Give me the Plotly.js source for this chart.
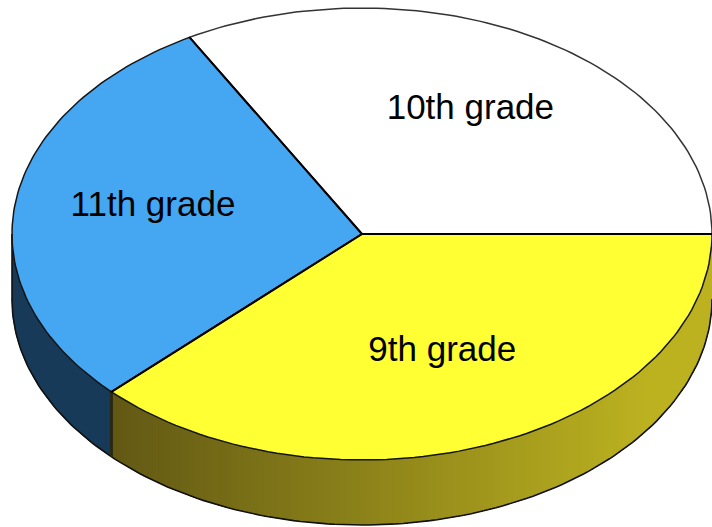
<!DOCTYPE html>
<html>
<head>
<meta charset="utf-8">
<script src="https://cdn.plot.ly/plotly-3.0.1.min.js"></script>
<style>html,body{margin:0;padding:0;background:#fff}#c{width:712px;height:527px}</style>
</head>
<body>
<div id="c"></div>
<script>
// Data (counter-clockwise from the right-hand edge)
const categories = ['10th grade', '11th grade', '9th grade'];
const shares = [33.2, 29.1, 37.7];
const topColors = ['#ffffff', '#45a6f2', '#ffff33'];
const labelRadii = [0.63, 0.609, 0.57];
const labelShiftDeg = [0.8, -3.2, 1.6];

// Projection of the tilted disc, as axis units
const tilt = 226 / 350;
const depth = 65 / 350;
const total = shares.reduce((a, b) => a + b, 0);
const edges = [0];
shares.forEach(s => edges.push(edges[edges.length - 1] + s / total * 2 * Math.PI));
const rim = (t, drop) => [Math.cos(t), Math.sin(t) * tilt - drop];
const arc = (a, b, drop, n) => {
  const out = [];
  for (let i = 0; i <= n; i++) out.push(rim(a + (b - a) * i / n, drop));
  return out;
};
const toTrace = (pts, fill, lineColor, lineWidth) => ({
  x: pts.map(p => p[0]), y: pts.map(p => p[1]),
  type: 'scatter', mode: 'lines', fill: 'toself', fillcolor: fill,
  line: {color: lineColor, width: lineWidth}, hoverinfo: 'skip', showlegend: false
});
const mix = (f) => {
  const a = [98, 88, 20], b = [188, 178, 32];
  const c = a.map((v, i) => Math.round(v + (b[i] - v) * f));
  return 'rgb(' + c.join(',') + ')';
};

const traces = [];
// Side wall, visible only on the lower half of the disc
const sideStart = Math.PI;
traces.push(toTrace(
  arc(sideStart, edges[2], 0, 24).concat(arc(edges[2], sideStart, depth, 24)),
  '#163a58', '#163a58', 1));
// Painted back to front so that neighbouring bands leave no seams
const strips = 120;
for (let i = 0; i < strips; i++) {
  const a = edges[2] + (edges[3] - edges[2]) * i / strips;
  const b = edges[3];
  const next = edges[2] + (edges[3] - edges[2]) * (i + 1) / strips;
  const f = Math.min(1, (Math.cos((a + next) / 2) - Math.cos(edges[2])) / (0.82 - Math.cos(edges[2])));
  const n = Math.max(2, strips - i);
  const tr = toTrace(arc(a, b, 0, n).concat(arc(b, a, depth, n)), mix(f), mix(f), 0);
  tr.line.width = 0;
  traces.push(tr);
}
// Wall outlines
const outline = (pts, w, c) => ({
  x: pts.map(p => p[0]), y: pts.map(p => p[1]), type: 'scatter', mode: 'lines',
  line: {color: c, width: w}, hoverinfo: 'skip', showlegend: false
});
traces.push(outline(arc(sideStart, 2 * Math.PI, depth, 160), 1.6, '#111'));
traces.push(outline([rim(edges[2], 0), rim(edges[2], depth)], 3, '#2a2a14'));
traces.push(outline([rim(sideStart, 0), rim(sideStart, depth)], 1.6, '#111'));
// Top slices
shares.forEach((s, i) => {
  const pts = [[0, 0]].concat(arc(edges[i], edges[i + 1], 0, 90), [[0, 0]]);
  traces.push(toTrace(pts, topColors[i], i === 0 ? '#333' : '#141414', 1.5));
});
// Straight slice edges on top again
[0, 1, 2].forEach(i => traces.push(outline([[0, 0], rim(edges[i], 0)], 2, '#000')));
// Labels
const labelAngle = (i) => (edges[i] + edges[i + 1]) / 2 + labelShiftDeg[i] * Math.PI / 180;
traces.push({
  x: shares.map((s, i) => Math.cos(labelAngle(i)) * labelRadii[i]),
  y: shares.map((s, i) => Math.sin(labelAngle(i)) * labelRadii[i] * tilt),
  text: categories, type: 'scatter', mode: 'text', textposition: 'middle center',
  textfont: {family: 'Liberation Sans, Arial, sans-serif', size: 35, color: '#000'},
  hoverinfo: 'skip', showlegend: false, cliponaxis: false
});

const layout = {
  width: 712, height: 527, margin: {l: 0, r: 0, t: 0, b: 0},
  paper_bgcolor: '#fff', plot_bgcolor: '#fff', showlegend: false,
  xaxis: {visible: false, range: [-362 / 350, 1], fixedrange: true},
  yaxis: {visible: false, range: [-293 / 350, 234 / 350], fixedrange: true}
};
Plotly.newPlot('c', traces, layout, {displayModeBar: false, staticPlot: true});
</script>
</body>
</html>
